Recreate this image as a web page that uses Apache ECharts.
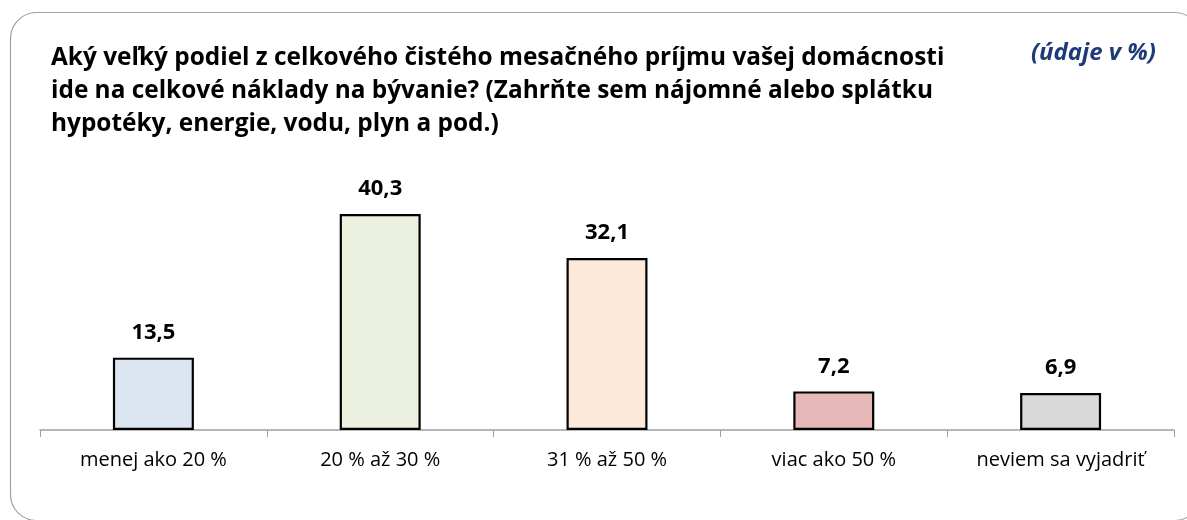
<!DOCTYPE html>
<html>
<head>
<meta charset="utf-8">
<script src="https://cdn.jsdelivr.net/npm/echarts@6/dist/echarts.min.js"></script>
<style>
html,body{margin:0;padding:0;background:#fff;}
#chart{width:1187px;height:520px;}
</style>
</head>
<body>
<div id="chart"></div>
<script>
var categories = ['menej ako 20 %', '20 % až 30 %', '31 % až 50 %', 'viac ako 50 %', 'neviem sa vyjadriť'];
var values = [13.5, 40.3, 32.1, 7.2, 6.9];
var barColors = ['#DCE6F1', '#EBF1DE', '#FDE9D9', '#E6B9B8', '#D9D9D9'];

var chart = echarts.init(document.getElementById('chart'));
var option = {
    backgroundColor: '#fff',
    animation: false,
    title: [{
        text: 'Aký veľký podiel z celkového čistého mesačného príjmu vašej domácnosti\nide na celkové náklady na bývanie? (Zahrňte sem nájomné alebo splátku\nhypotéky, energie, vodu, plyn a pod.)',
        left: 46,
        top: 37,
        textStyle: {
            fontFamily: 'Open Sans',
            fontWeight: 'bold',
            fontSize: 24.4,
            lineHeight: 33,
            color: '#000'
        }
    }, {
        text: '(údaje v %)',
        right: 26,
        top: 36,
        textStyle: {
            fontFamily: 'Open Sans',
            fontWeight: 'bold',
            fontStyle: 'italic',
            fontSize: 24,
            color: '#1F3A78'
        }
    }],
    graphic: [{
        type: 'rect',
        shape: {x: 10.5, y: 12.5, width: 1190, height: 508, r: 26},
        style: {fill: 'none', stroke: '#A0A0A0', lineWidth: 1.2},
        silent: true,
        z: -1
    }],
    grid: {
        left: 40,
        right: 13,
        top: 162,
        bottom: 90,
        containLabel: false
    },
    xAxis: {
        type: 'category',
        data: categories,
        axisLine: {lineStyle: {color: '#A0A0A0', width: 1.5}},
        axisTick: {show: true, length: 7, lineStyle: {color: '#A0A0A0'}},
        axisLabel: {
            fontFamily: 'Open Sans',
            fontSize: 20,
            color: '#000',
            margin: 20,
            interval: 0
        }
    },
    yAxis: {
        type: 'value',
        min: 0,
        max: 50,
        show: false,
        splitLine: {show: false}
    },
    series: [{
        type: 'bar',
        barWidth: '35.7%',
        data: values.map(function (v, i) {
            return {value: v, itemStyle: {color: barColors[i]}};
        }),
        itemStyle: {borderColor: '#000', borderWidth: 2.2},
        label: {
            show: true,
            position: 'top',
            distance: 14,
            fontFamily: 'Open Sans',
            fontWeight: 'bold',
            fontSize: 22,
            color: '#000',
            formatter: function (p) {
                return p.value.toFixed(1).replace('.', ',');
            }
        }
    }]
};
chart.setOption(option);
</script>
</body>
</html>
